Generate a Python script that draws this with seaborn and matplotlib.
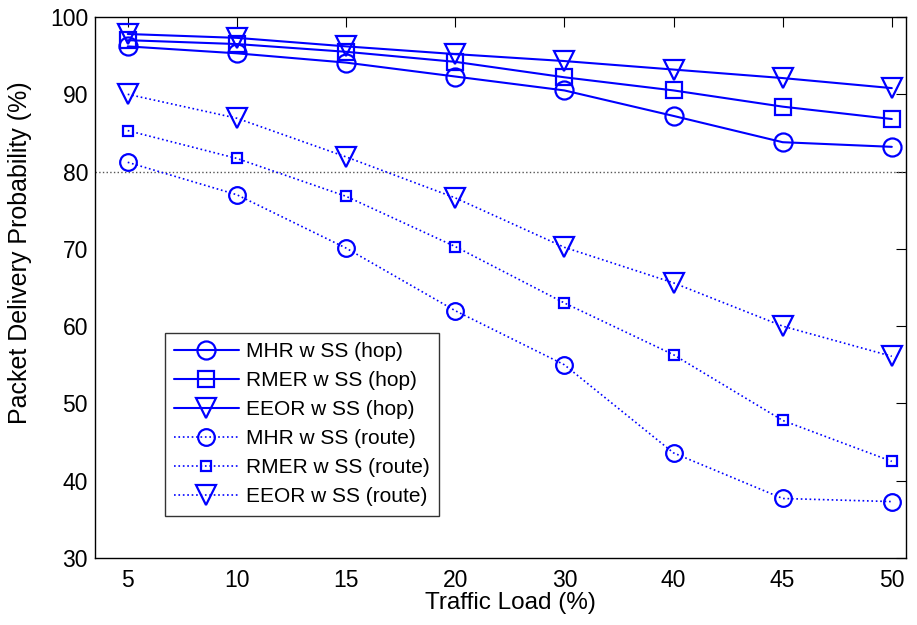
import numpy as np
import pandas as pd
import seaborn as sns
import matplotlib
matplotlib.use("Agg")
import matplotlib.pyplot as plt

# data
loads = ["5", "10", "15", "20", "30", "40", "45", "50"]
mhr_hop = [96.2, 95.3, 94.1, 92.3, 90.5, 87.2, 83.8, 83.2]
rmer_hop = [97.0, 96.5, 95.5, 94.2, 92.2, 90.5, 88.4, 86.8]
eeor_hop = [97.8, 97.3, 96.2, 95.2, 94.3, 93.2, 92.1, 90.8]
mhr_route = [81.2, 77.0, 70.1, 62.0, 55.0, 43.6, 37.7, 37.3]
rmer_route = [85.3, 81.7, 76.8, 70.3, 63.0, 56.3, 47.8, 42.5]
eeor_route = [90.0, 86.9, 81.9, 76.6, 70.2, 65.6, 60.0, 56.1]
threshold = 80

series = [
    ("MHR w SS (hop)", mhr_hop, "-", "o", 13),
    ("RMER w SS (hop)", rmer_hop, "-", "s", 11),
    ("EEOR w SS (hop)", eeor_hop, "-", "v", 14),
    ("MHR w SS (route)", mhr_route, ":", "o", 12),
    ("RMER w SS (route)", rmer_route, ":", "s", 7.5),
    ("EEOR w SS (route)", eeor_route, ":", "v", 14),
]

sns.set_style("white")
plt.rcParams["font.family"] = ["Liberation Sans", "DejaVu Sans"]
plt.rcParams["text.color"] = "black"
plt.rcParams["axes.labelcolor"] = "black"

fig = plt.figure(figsize=(9.17, 6.25), dpi=100)
ax = fig.add_axes([95 / 917, 67 / 625, 811 / 917, 541 / 625])

xpos = np.arange(len(loads))
ax.axhline(threshold, color="#555555", linestyle=":", linewidth=1, zorder=1)

for name, vals, ls, mk, ms in series:
    df = pd.DataFrame({"x": xpos, "y": vals})
    sns.lineplot(data=df, x="x", y="y", ax=ax, color="blue", linestyle=ls,
                 linewidth=1.5 if ls == "-" else 1.2, marker=mk, markersize=ms,
                 markerfacecolor="none", markeredgecolor="blue",
                 markeredgewidth=1.6, label=name)

ax.set_xlim(-0.3, 7.13)
ax.set_ylim(30, 100)
ax.set_xticks(xpos)
ax.set_xticklabels(loads)
ax.set_yticks(range(30, 101, 10))
ax.tick_params(direction="in", length=7, width=0.8, top=True, right=True,
               labelsize=16.5, colors="black")
ax.tick_params(axis="x", pad=8)
ax.tick_params(axis="y", pad=5)
for s in ax.spines.values():
    s.set_color("black")
    s.set_linewidth(1)
ax.set_xlabel("Traffic Load (%)", fontsize=17.5)
ax.set_ylabel("Packet Delivery Probability (%)", fontsize=18)
ax.xaxis.set_label_coords(0.512, -0.063)
ax.yaxis.set_label_coords(-0.078, 0.564)

leg = ax.legend(loc="lower left", bbox_to_anchor=(0.086, 0.078), fontsize=15,
                handlelength=3.1, handletextpad=0.35, labelspacing=0.48,
                borderpad=0.45, borderaxespad=0, frameon=True, fancybox=False)
leg.get_frame().set_edgecolor("black")
leg.get_frame().set_linewidth(1)

fig.savefig("out.png", dpi=100)
